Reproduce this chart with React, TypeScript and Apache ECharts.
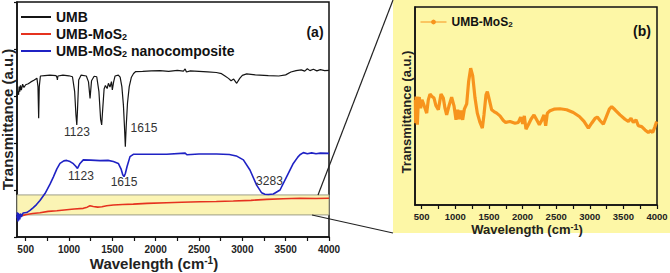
import React, { useEffect, useRef } from 'react';
import * as echarts from 'echarts';

const FONT = '"Liberation Sans", Arial, Helvetica, sans-serif';

const seriesNames = ['UMB', 'UMB-MoS2', 'UMB-MoS2 nanocomposite'];
const zoomSeriesName = 'UMB-MoS2 (b)';

const xTickLabels = [500, 1000, 1500, 2000, 2500, 3000, 3500, 4000];
const xTicks = [500, 750, 1000, 1250, 1500, 1750, 2000, 2250, 2500, 2750, 3000, 3250, 3500, 3750, 4000];

// Panel (a): UMB (black)
const umbData = [
  [400, 59.7], [410, 62], [418, 60.5], [425, 64], [432, 61.8], [440, 64.5], [450, 62.5], [465, 65],
  [480, 63.6], [500, 64.8], [530, 65.2], [560, 66], [600, 66.8], [630, 67.6], [642, 64], [650, 50.5],
  [657, 64], [670, 68.5], [720, 68.7], [780, 68.9], [850, 68.7], [862, 67.8], [866, 66.8], [872, 68.5],
  [930, 68.9], [1000, 68.6], [1040, 68.2], [1065, 62], [1080, 52], [1090, 47.7], [1098, 54], [1112, 66.8],
  [1140, 68.9], [1200, 68.5], [1225, 66], [1243, 59], [1260, 66.5], [1290, 68.4], [1320, 68.2],
  [1345, 62], [1365, 50], [1377, 47.7], [1390, 55], [1405, 63], [1420, 64.5], [1440, 63.2], [1455, 65.4],
  [1473, 63.8], [1490, 66.1], [1500, 62.6], [1515, 66], [1531, 68.5], [1569, 68.9], [1590, 68], [1610, 64],
  [1628, 56], [1640, 47], [1650, 38.4], [1660, 47], [1675, 57], [1695, 64], [1720, 68], [1745, 69.6],
  [1770, 70.4], [1850, 70.5], [1950, 70.7], [2050, 70.8], [2150, 70.5], [2250, 70.9], [2320, 70.6],
  [2340, 71.5], [2355, 70.2], [2400, 70.7], [2500, 70.5], [2600, 70.3], [2700, 70.0], [2760, 69.5],
  [2800, 68.5], [2840, 67.5], [2870, 66.5], [2900, 67.2], [2935, 65.4], [2970, 67.5], [3000, 68.8],
  [3050, 69.4], [3150, 69.0], [3300, 68.7], [3420, 68.5], [3500, 69.0], [3560, 70.2], [3620, 70.8],
  [3680, 71.1], [3720, 70.6], [3750, 71.6], [3780, 70.8], [3820, 71.4], [3860, 70.7], [3900, 71.2],
  [3950, 70.8], [4000, 70.9]
];

// Panel (a): UMB-MoS2 (red)
const mos2Data = [
  [400, 8.4], [430, 8.9], [470, 9.2], [512, 9.6], [580, 10.0], [665, 10.3], [760, 10.9], [860, 11.2],
  [973, 11.6], [1060, 11.9], [1165, 12.2], [1210, 12.7], [1242, 13.3], [1280, 13.0], [1330, 12.7],
  [1380, 12.9], [1435, 13.3], [1512, 13.6], [1620, 13.8], [1742, 14.0], [1900, 14.3], [2127, 14.6],
  [2300, 14.8], [2512, 15.0], [2700, 15.1], [2896, 15.3], [3100, 15.6], [3281, 16.0], [3473, 16.3],
  [3665, 16.5], [3850, 16.4], [4000, 16.5]
];

// Panel (a): UMB-MoS2 nanocomposite (blue)
const nanoData = [
  [400, 8], [405, 10.5], [410, 6.6], [415, 10.2], [420, 7], [425, 9.8], [432, 7.5], [440, 10],
  [450, 8.5], [470, 10.2], [512, 10.4], [550, 11.3], [588, 12.5], [625, 13.8], [665, 15.5], [723, 18.5],
  [781, 22.5], [819, 25.5], [860, 29], [896, 31.3], [940, 32.4], [973, 32.6], [1012, 32.1], [1050, 31.2],
  [1075, 30.2], [1098, 29.2], [1127, 31.3], [1165, 32.8], [1250, 32.7], [1358, 32.5], [1450, 32.6],
  [1512, 32.1], [1569, 31.3], [1600, 29], [1620, 26.5], [1635, 25.7], [1650, 27], [1670, 30],
  [1704, 34.2], [1742, 35.2], [1900, 35.2], [2127, 35.2], [2340, 35.7], [2360, 35.0], [2500, 35.3],
  [2704, 35.3], [2850, 35.1], [2930, 34.5], [3012, 32.8], [3088, 28.5], [3165, 22.1], [3223, 18.8],
  [3260, 18.2], [3300, 18.1], [3358, 18.3], [3435, 20.0], [3512, 25.7], [3588, 31.3], [3640, 34],
  [3665, 35.0], [3704, 35.9], [3750, 35.4], [3800, 35.8], [3850, 35.4], [3900, 35.7], [4000, 35.6]
];

// Panel (b): zoomed UMB-MoS2 (orange)
const zoomData = [
  [405, 53.1], [410, 41.3], [415, 54.8], [420, 42.2], [425, 51.4], [435, 40.5], [450, 53.1], [464, 54.5],
  [484, 48.9], [504, 53.1], [524, 51.4], [549, 48.9], [574, 46.4], [598, 53.1], [623, 56.0], [653, 54.8],
  [683, 54.0], [712, 50.1], [747, 48.1], [787, 56.0], [821, 54.0], [846, 48.9], [871, 45.5], [906, 50.1],
  [945, 54.5], [980, 50.1], [1010, 43.0], [1035, 48.1], [1060, 43.3], [1084, 47.7], [1109, 43.0],
  [1134, 48.4], [1169, 51.1], [1198, 62.4], [1228, 69.1], [1258, 65.3], [1293, 54.0], [1327, 46.4],
  [1367, 41.7], [1402, 38.8], [1426, 45.5], [1456, 55.6], [1476, 57.3], [1506, 53.1], [1540, 48.1],
  [1575, 47.2], [1615, 46.4], [1664, 45.0], [1714, 42.7], [1749, 41.7], [1813, 42.2], [1888, 41.3],
  [1937, 41.7], [1972, 44.4], [2002, 41.0], [2026, 45.0], [2051, 38.3], [2086, 40.5], [2126, 43.3],
  [2170, 45.5], [2210, 43.0], [2250, 40.5], [2284, 42.7], [2319, 45.5], [2344, 40.0], [2369, 46.4],
  [2408, 47.6], [2468, 48.4], [2557, 48.6], [2656, 48.1], [2755, 46.7], [2845, 44.7], [2914, 42.2],
  [2979, 38.8], [3028, 41.3], [3078, 43.7], [3112, 44.4], [3152, 42.7], [3202, 40.8], [3251, 45.0],
  [3291, 48.4], [3326, 49.7], [3375, 48.1], [3450, 45.5], [3524, 43.3], [3574, 42.2], [3613, 43.8],
  [3648, 41.7], [3688, 43.0], [3722, 40.0], [3772, 39.6], [3822, 37.9], [3871, 36.6], [3906, 37.6],
  [3936, 36.6], [3970, 39.6], [3995, 42.2]
];

// Peak annotations: [label, x (cm-1), y]
const umbPeakLabels: [string, number, number][] = [['1123', 1092, 44.7], ['1615', 1865, 46.4]];
const nanoPeakLabels: [string, number, number][] = [['1123', 1138, 26.0], ['1615', 1635, 23.2], ['3283', 3313, 23.8]];

// Highlighted (zoomed) region in panel (a)
const zoomBandX = [400, 4000];
const zoomBandY = [9.4, 17.9];

const legendFormatter = (name: string) => {
  if (name === 'UMB') return '{t|UMB}';
  if (name === 'UMB-MoS2' || name === zoomSeriesName) return '{t|UMB-MoS}{s|2}';
  if (name === 'UMB-MoS2 nanocomposite') return '{t|UMB-MoS}{s|2}{t| nanocomposite}';
  return name;
};

const peakMarks = (labels: [string, number, number][]) => ({
  symbol: 'rect',
  symbolSize: 1,
  itemStyle: { color: 'rgba(0,0,0,0)' },
  silent: true,
  label: {
    show: true,
    position: 'inside',
    formatter: '{b}',
    fontFamily: FONT,
    fontSize: 12,
    color: '#333'
  },
  data: labels.map(([n, x, y]) => ({ name: n, coord: [x, y] }))
});

const xAxisBase = (gridIndex: number, fontSize: number, margin: number) => ({
  type: 'value',
  gridIndex,
  min: 400,
  max: 4000,
  splitLine: { show: false },
  axisLine: { lineStyle: { color: '#111', width: 1.5 } },
  axisTick: { show: true, customValues: xTicks, length: 4, lineStyle: { color: '#111', width: 1.2 } },
  axisLabel: {
    customValues: xTickLabels,
    formatter: (v: number) => String(v),
    fontFamily: FONT,
    fontSize,
    fontWeight: 'bold',
    color: '#222',
    margin
  }
});

export default function App() {
  const ref = useRef<HTMLDivElement>(null);

  useEffect(() => {
    if (!ref.current) return;
    const chart = echarts.init(ref.current, null, { renderer: 'svg' });

    const option: any = {
      animation: false,
      backgroundColor: '#ffffff',
      grid: [
        { left: 17, top: 2, width: 312, height: 235, show: true, borderColor: '#111', borderWidth: 1.5, backgroundColor: 'transparent', outerBoundsMode: 'none' },
        { left: 415, top: 7, width: 242, height: 198, show: true, borderColor: '#111', borderWidth: 1.5, backgroundColor: 'transparent', outerBoundsMode: 'none' }
      ],
      xAxis: [
        {
          ...xAxisBase(0, 10, 7),
          name: '{t|Wavelength (cm}{p|-1}{t|)}',
          nameLocation: 'middle',
          nameMoveOverlap: false,
          nameGap: 18,
          nameTextStyle: {
            padding: [0, 38, 0, 0],
            rich: {
              t: { fontFamily: FONT, fontSize: 15, fontWeight: 'bold', color: '#222', lineHeight: 17 },
              p: { fontFamily: FONT, fontSize: 10, fontWeight: 'bold', color: '#222', verticalAlign: 'top', lineHeight: 10 }
            }
          }
        },
        {
          ...xAxisBase(1, 9.5, 6),
          name: '{t|Wavelength (cm}{p|-1}{t|)}',
          nameLocation: 'middle',
          nameMoveOverlap: false,
          nameGap: 17,
          nameTextStyle: {
            padding: [0, 18, 0, 0],
            rich: {
              t: { fontFamily: FONT, fontSize: 13, fontWeight: 'bold', color: '#222', lineHeight: 15 },
              p: { fontFamily: FONT, fontSize: 9, fontWeight: 'bold', color: '#222', verticalAlign: 'top', lineHeight: 9 }
            }
          }
        }
      ],
      yAxis: [
        {
          type: 'value',
          gridIndex: 0,
          min: 0,
          max: 100,
          interval: 20,
          name: 'Transmittance (a.u.)',
          nameLocation: 'middle',
          nameMoveOverlap: false,
          nameGap: 2,
          nameTextStyle: { fontFamily: FONT, fontSize: 15, fontWeight: 'bold', color: '#222' },
          splitLine: { show: false },
          axisLine: { lineStyle: { color: '#111', width: 1.5 } },
          axisTick: { show: true, length: 3, lineStyle: { color: '#111', width: 1.2 } },
          axisLabel: { show: false }
        },
        {
          type: 'value',
          gridIndex: 1,
          min: 0,
          max: 100,
          interval: 20,
          name: 'Transmittance (a.u.)',
          nameLocation: 'middle',
          nameMoveOverlap: false,
          nameGap: 2,
          nameTextStyle: { fontFamily: FONT, fontSize: 13, fontWeight: 'bold', color: '#222', padding: [0, 12, 0, 0] },
          splitLine: { show: false },
          axisLine: { lineStyle: { color: '#111', width: 1.5 } },
          axisTick: { show: false },
          axisLabel: { show: false }
        }
      ],
      legend: [
        {
          data: seriesNames,
          orient: 'vertical',
          left: 16,
          top: 5,
          itemWidth: 30,
          itemHeight: 2,
          itemGap: 3,
          icon: 'rect',
          selectedMode: false,
          formatter: legendFormatter,
          textStyle: {
            rich: {
              t: { fontFamily: FONT, fontSize: 14, fontWeight: 'bold', color: '#111', lineHeight: 14 },
              s: { fontFamily: FONT, fontSize: 9, fontWeight: 'bold', color: '#111', verticalAlign: 'bottom', lineHeight: 9 }
            }
          }
        },
        {
          data: [zoomSeriesName],
          left: 415,
          top: 11,
          itemWidth: 26,
          itemHeight: 6,
          selectedMode: false,
          lineStyle: { width: 1 },
          formatter: legendFormatter,
          textStyle: {
            rich: {
              t: { fontFamily: FONT, fontSize: 12, fontWeight: 'bold', color: '#111', lineHeight: 12 },
              s: { fontFamily: FONT, fontSize: 8, fontWeight: 'bold', color: '#111', verticalAlign: 'bottom', lineHeight: 8 }
            }
          }
        }
      ],
      series: [
        {
          type: 'line',
          z: 1,
          silent: true,
          data: [],
          xAxisIndex: 0,
          yAxisIndex: 0,
          markArea: {
            silent: true,
            itemStyle: { color: '#fbf4b4', borderColor: '#9e9e88', borderWidth: 1 },
            data: [[{ xAxis: zoomBandX[0], yAxis: zoomBandY[0] }, { xAxis: zoomBandX[1], yAxis: zoomBandY[1] }]]
          }
        },
        {
          name: 'UMB',
          type: 'line',
          z: 3,
          xAxisIndex: 0,
          yAxisIndex: 0,
          data: umbData,
          showSymbol: false,
          symbol: 'none',
          itemStyle: { color: '#151515' },
          lineStyle: { color: '#151515', width: 1.2 },
          markPoint: peakMarks(umbPeakLabels)
        },
        {
          name: 'UMB-MoS2',
          type: 'line',
          z: 3,
          xAxisIndex: 0,
          yAxisIndex: 0,
          data: mos2Data,
          showSymbol: false,
          symbol: 'none',
          itemStyle: { color: '#e5321f' },
          lineStyle: { color: '#e5321f', width: 1.6 }
        },
        {
          name: 'UMB-MoS2 nanocomposite',
          type: 'line',
          z: 3,
          xAxisIndex: 0,
          yAxisIndex: 0,
          data: nanoData,
          showSymbol: false,
          symbol: 'none',
          itemStyle: { color: '#1f22c4' },
          lineStyle: { color: '#1f22c4', width: 1.6 },
          markPoint: peakMarks(nanoPeakLabels)
        },
        {
          name: zoomSeriesName,
          type: 'line',
          z: 3,
          xAxisIndex: 1,
          yAxisIndex: 1,
          data: zoomData,
          showSymbol: false,
          symbol: 'circle',
          symbolSize: 3,
          itemStyle: { color: '#f7941d' },
          lineStyle: { color: '#f7941d', width: 3.2 }
        }
      ],
      graphic: [
        { type: 'rect', z: -1, silent: true, shape: { x: 393, y: 0, width: 277, height: 233 }, style: { fill: '#fdf7a6' } },
        { type: 'line', z: 10, silent: true, shape: { x1: 318, y1: 195, x2: 393, y2: 0 }, style: { stroke: '#222', lineWidth: 1.2 } },
        { type: 'line', z: 10, silent: true, shape: { x1: 312, y1: 215, x2: 393, y2: 233 }, style: { stroke: '#222', lineWidth: 1.2 } },
        { type: 'text', z: 10, x: 315, y: 32, style: { text: '(a)', font: `bold 14px ${FONT}`, fill: '#111', textAlign: 'center', textVerticalAlign: 'middle' } },
        { type: 'text', z: 10, x: 642, y: 30.5, style: { text: '(b)', font: `bold 14px ${FONT}`, fill: '#111', textAlign: 'center', textVerticalAlign: 'middle' } }
      ]
    };

    chart.setOption(option);
    return () => chart.dispose();
  }, []);

  return (
    <div
      ref={ref}
      style={{ position: 'absolute', left: 0, top: 0, width: 670, height: 273, background: '#fff' }}
    />
  );
}
